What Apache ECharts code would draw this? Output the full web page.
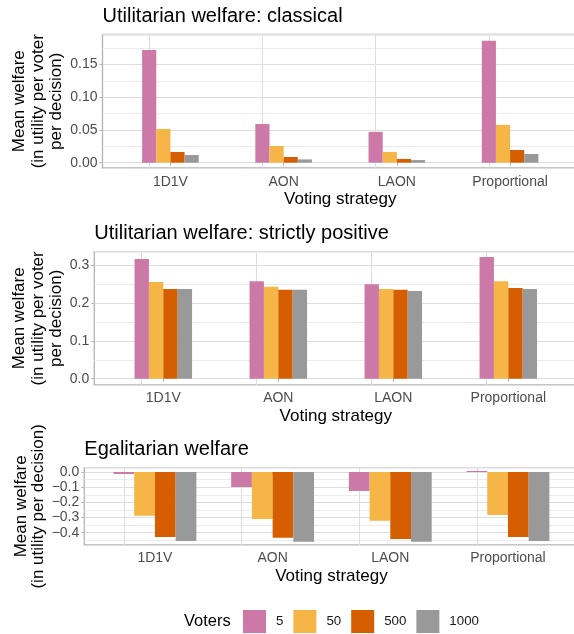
<!DOCTYPE html>
<html>
<head>
<meta charset="utf-8">
<script src="https://cdn.jsdelivr.net/npm/echarts@6/dist/echarts.min.js"></script>
<style>
  html, body { margin: 0; padding: 0; background: #fff; }
  #chart { width: 574px; height: 634px; }
</style>
</head>
<body>
<div id="chart"></div>
<script>
var strategies = ['1D1V', 'AON', 'LAON', 'Proportional'];
var voters = ['5', '50', '500', '1000'];
var voterColors = ['#CC79A7', '#F5B547', '#D55E00', '#999999'];

// utilitarian welfare, classical (one value per strategy)
var classical5 = [0.172, 0.059, 0.047, 0.186];
var classical50 = [0.0515, 0.0255, 0.0164, 0.0577];
var classical500 = [0.0164, 0.0087, 0.0057, 0.0194];
var classical1000 = [0.0117, 0.005, 0.004, 0.0133];

// utilitarian welfare, strictly positive
var positive5 = [0.317, 0.258, 0.250, 0.322];
var positive50 = [0.256, 0.243, 0.237, 0.258];
var positive500 = [0.237, 0.235, 0.235, 0.240];
var positive1000 = [0.237, 0.235, 0.232, 0.237];

// egalitarian welfare
var egal5 = [-0.013, -0.099, -0.125, 0.007];
var egal50 = [-0.289, -0.309, -0.322, -0.283];
var egal500 = [-0.428, -0.434, -0.441, -0.428];
var egal1000 = [-0.454, -0.46, -0.46, -0.454];

var fontFamily = '"Liberation Sans", Arial, sans-serif';

var panels = [
  {
    title: 'Utilitarian welfare: classical',
    yName: 'Mean welfare\n(in utility per voter\nper decision)',
    values: [classical5, classical50, classical500, classical1000],
    min: -0.0081, max: 0.1957, splitNumber: 4, digits: 2,
    left: 102.5, right: -4, top: 34.5, height: 133.5, inset: 11.3,
    barWidth: '12.5%', titleTop: 6, nameGap: 36.5, nameLine: 18.5, labelMargin: 7
  },
  {
    title: 'Utilitarian welfare: strictly positive',
    yName: 'Mean welfare\n(in utility per voter\nper decision)',
    values: [positive5, positive50, positive500, positive1000],
    min: -0.0167, max: 0.336, splitNumber: 4, digits: 1,
    left: 94.3, right: -3.3, top: 251.7, height: 133.3, inset: 11.5,
    barWidth: '12.5%', titleTop: 223, nameGap: 28.5, nameLine: 18.5, labelMargin: 6.5
  },
  {
    title: 'Egalitarian welfare',
    yName: 'Mean welfare\n(in utility per decision)',
    values: [egal5, egal50, egal500, egal1000],
    min: -0.481, max: 0.0283, splitNumber: 5, digits: 1,
    left: 84.3, right: -4.6, top: 467.7, height: 77.3, inset: 11.8,
    barWidth: '17.6%', titleTop: 439, nameGap: 37, nameLine: 17, labelMargin: 6
  }
];

var option = {
  animation: false,
  backgroundColor: '#ffffff',
  textStyle: { fontFamily: fontFamily },
  title: [],
  grid: [],
  xAxis: [],
  yAxis: [],
  series: [],
  legend: {
    data: voters,
    left: 243,
    top: 610,
    padding: 0,
    icon: 'rect',
    itemWidth: 23,
    itemHeight: 23,
    itemGap: 10,
    selectedMode: false,
    textStyle: { fontSize: 13.3, color: '#1a1a1a', fontFamily: fontFamily, padding: [0, 0, 0, 5] }
  },
  graphic: [{
    type: 'text',
    left: 184,
    top: 613,
    style: { text: 'Voters', fontSize: 16.5, fill: '#000', fontFamily: fontFamily }
  }]
};

panels.forEach(function (p, i) {
  var frame = i * 2;
  var inner = i * 2 + 1;
  option.title.push({
    text: p.title,
    left: p.left,
    top: p.titleTop,
    padding: 0,
    textStyle: { fontSize: 20, fontWeight: 'normal', color: '#000', fontFamily: fontFamily }
  });
  // frame grid: border + horizontal grid lines + y labels
  option.grid.push({
    left: p.left, right: p.right, top: p.top, height: p.height,
    show: true, borderColor: '#b3b3b3', borderWidth: 1.3, backgroundColor: 'transparent',
    outerBoundsMode: 'none', containLabel: false
  });
  // data grid: inset so the category bands match ggplot's expansion
  option.grid.push({
    left: p.left + p.inset, right: p.right + p.inset, top: p.top, height: p.height,
    outerBoundsMode: 'none', containLabel: false
  });
  option.xAxis.push({ type: 'value', gridIndex: frame, show: false, min: 0, max: 1 });
  option.xAxis.push({
    type: 'category',
    gridIndex: inner,
    data: strategies,
    boundaryGap: true,
    name: 'Voting strategy',
    nameLocation: 'middle',
    nameGap: 23,
    nameMoveOverlap: false,
    nameTextStyle: { fontSize: 17, color: '#000', fontFamily: fontFamily },
    axisLine: { show: false },
    axisTick: { show: true, alignWithLabel: true, length: 3, lineStyle: { color: '#b3b3b3', width: 1.1 } },
    axisLabel: { margin: p.labelMargin, fontSize: 14, color: '#4d4d4d', fontFamily: fontFamily },
    splitLine: { show: false }
  });
  option.yAxis.push({
    type: 'value',
    gridIndex: frame,
    min: p.min,
    max: p.max,
    splitNumber: p.splitNumber,
    name: p.yName,
    nameLocation: 'middle',
    nameRotate: 90,
    nameGap: p.nameGap,
    nameMoveOverlap: false,
    nameTextStyle: { fontSize: 17, lineHeight: p.nameLine, color: '#000', fontFamily: fontFamily, align: 'center' },
    axisLine: { show: false },
    axisTick: { show: true, length: 3, lineStyle: { color: '#b3b3b3', width: 1.1 } },
    axisLabel: {
      margin: 5, fontSize: 14, color: '#4d4d4d', fontFamily: fontFamily,
      showMinLabel: false, showMaxLabel: false,
      formatter: function (v) {
        var s = (Math.abs(v) < 1e-9 ? 0 : v).toFixed(p.digits);
        return s.replace('-', '\u2212');
      }
    },
    splitLine: { show: true, lineStyle: { color: '#dedede', width: 1 } },
    minorTick: { show: false, splitNumber: 2 },
    minorSplitLine: { show: true, lineStyle: { color: '#ececec', width: 1 } }
  });
  option.yAxis.push({ type: 'value', gridIndex: inner, show: false, min: p.min, max: p.max });

  voters.forEach(function (v, k) {
    var s = {
      name: v,
      type: 'bar',
      xAxisIndex: inner,
      yAxisIndex: inner,
      barWidth: p.barWidth,
      barGap: '0%',
      itemStyle: { color: voterColors[k] },
      data: p.values[k]
    };
    if (k === 0) {
      // vertical grid lines at the category centres, kept under the bars
      s.markLine = {
        z: 1,
        silent: true,
        symbol: ['none', 'none'],
        label: { show: false },
        lineStyle: { color: '#dedede', width: 1, type: 'solid' },
        emphasis: { disabled: true },
        data: strategies.map(function (c) { return { xAxis: c }; })
      };
    }
    option.series.push(s);
  });
});

var chart = echarts.init(document.getElementById('chart'), null, { renderer: 'canvas' });
chart.setOption(option);
</script>
</body>
</html>
